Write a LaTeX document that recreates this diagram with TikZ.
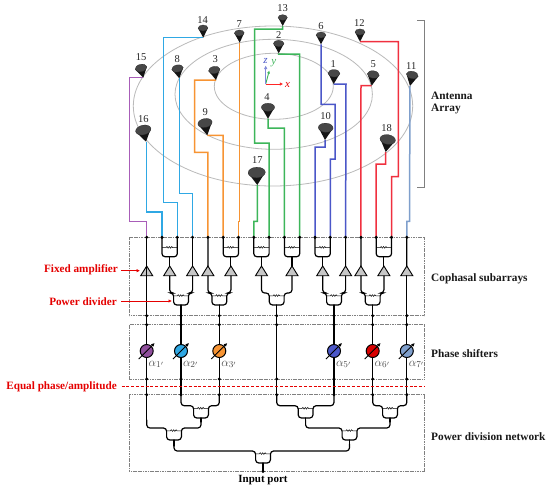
\documentclass[tikz,border=0pt]{standalone}
\usepackage{fontspec}
\setmainfont{Liberation Serif}
\usetikzlibrary{arrows.meta}
\definecolor{cpur}{HTML}{A85DB8}
\definecolor{ccya}{HTML}{2FA8E4}
\definecolor{cora}{HTML}{F79433}
\definecolor{cgre}{HTML}{3DB65A}
\definecolor{cblu}{HTML}{4B57C8}
\definecolor{cred}{HTML}{F0303F}
\definecolor{csla}{HTML}{7F9FCC}
\tikzset{
  wire/.style={black,line width=1.2pt,line cap=round},
  feed/.style={line width=1.5pt,line join=miter},
  ring/.style={draw=black!27,line width=.8pt},
  panel/.style={draw=black!50,line width=.55pt,dash pattern=on 1.2pt off .5pt},
  jdot/.style={circle,fill=black,inner sep=0pt,minimum size=3.4pt},
  numl/.style={font=\fontsize{10.5}{10}\selectfont,inner sep=0pt,text=black!85},
  side/.style={font=\fontsize{11.3}{12.4}\selectfont\bfseries,inner sep=0pt,anchor=west,align=left,text=black!90},
  redl/.style={font=\fontsize{11.2}{12}\selectfont\bfseries,inner sep=0pt,anchor=east,text=red!90!black},
  redar/.style={red!90!black,line width=.8pt,-{Latex[length=3.5pt,width=3.5pt]}},
  alab/.style={inner sep=0pt,text=black!70,font=\fontsize{13}{13}\selectfont},
}
\newcommand{\antn}[8]{%
  \pgfmathsetmacro{\ddx}{#3-#1}\pgfmathsetmacro{\ddy}{#4-#2}%
  \pgfmathsetmacro{\ddh}{sqrt(\ddx*\ddx+\ddy*\ddy)}%
  \pgfmathsetmacro{\upx}{-\ddy/\ddh}\pgfmathsetmacro{\upy}{\ddx/\ddh}%
  \pgfmathsetmacro{\ang}{atan2(-\upy,\upx)}%
  \coordinate (t#6) at (#1,#2);
  \fill[black!92] (#3-#5*\upx,#4-#5*\upy) -- (t#6) -- (#3+#5*\upx,#4+#5*\upy) -- cycle;
  \fill[black!72,draw=black!85,line width=.2pt] (#3,#4) ellipse [x radius=#5,y radius=.62*#5,rotate=\ang];
  \node[numl] (n#6) at (#7,#8) {#6};
}
\newcommand{\wigg}[3]{%
  \draw[black,line width=.5pt] (#1-#2,#3) -- (#1-3.6,#3) -- (#1-2.7,#3-1.1) -- (#1-1.5,#3+.6) -- (#1-.3,#3-1.1) -- (#1+.9,#3+.6) -- (#1+2.1,#3-1.1) -- (#1+3,#3) -- (#1+#2,#3);
}
\newcommand{\pdtop}[2]{%
  \pgfmathsetmacro{\cxx}{(#1+#2)/2}\pgfmathsetmacro{\hww}{(#2-#1)/2}%
  \draw[wire,rounded corners=3pt] (#1,237.3) -- (#1,256.7) -- (#2,256.7) -- (#2,237.3);
  \wigg{\cxx}{\hww}{247.6}
  \draw[wire] (\cxx,256.7) -- (\cxx,267);
}
\newcommand{\pdiv}[7]{%
  \draw[wire,rounded corners=3.2pt] (#1,#4) -- (#1,#5) -- (#3-7.4,#5) -- (#3-7.4,#6) -- (#3+7.4,#6) -- (#3+7.4,#5) -- (#2,#5) -- (#2,#4);
  \wigg{#3}{7.4}{#5+2.8}
  \draw[wire] (#3,#6) -- (#3,#7);
}
\newcommand{\ampl}[1]{%
  \draw[black,line width=.9pt,fill=black!22!white,line join=miter] (#1,266) -- (#1+6,275.7) -- (#1-6,275.7) -- cycle;
}
\newcommand{\pshift}[3]{%
  \draw[black,line width=1pt,fill=#2] (#1,351) circle (6.5);
  \draw[black,line width=.9pt,-{Latex[length=3.5pt,width=3.5pt]}] (#1-8,359) -- (#1+8,343);
  \node[alab,anchor=west] (al#3) at (#1+1.8,364.5) {$\alpha_{#3'}$};
}
\begin{document}
\begin{tikzpicture}[x=1pt,y=-1pt]
\useasboundingbox (0,0) rectangle (550,493);
\fill[white] (0,0) rectangle (550,493);
\foreach \i in {0,...,17}{
  \pgfmathsetmacro{\xx}{146.7+15.3*\i}
  \coordinate (c\i) at (\xx,237.3);
}
\draw[ring] (273,106) ellipse [x radius=139.7,y radius=80];
\draw[ring] (273.7,94.3) ellipse [x radius=98.7,y radius=55];
\draw[ring] (273.8,86.3) ellipse [x radius=59.5,y radius=33];
\draw[panel] (129.3,237.3) rectangle (424.3,315.7);
\draw[panel] (129.3,324.7) rectangle (424.3,379);
\draw[panel] (129.3,394.7) rectangle (424.3,471.3);
\draw[black!50,line width=.8pt] (417.3,20.7) -- (424.3,20.7) -- (424.3,187.3) -- (417.3,187.3);
\draw[cgre,line width=.9pt,-{Latex[length=3pt,width=3pt]}] (265.7,84) -- (269.3,70.5);
\draw[cblu!70,line width=.9pt,-{Latex[length=3.5pt,width=3.5pt]}] (265.7,84) -- (265.7,65.5);
\draw[red!85,line width=.9pt,-{Latex[length=3.5pt,width=3.5pt]}] (265.7,84) -- (283.3,84);
\node[inner sep=0pt,text=cblu,font=\fontsize{11}{10}\selectfont\itshape] (az) at (265.5,60.5) {z};
\node[inner sep=0pt,text=cgre,font=\fontsize{11}{10}\selectfont\itshape] (ay) at (273.8,63.5) {y};
\node[inner sep=0pt,text=red!90!black,font=\fontsize{11}{10}\selectfont\itshape] (ax) at (287.6,84.5) {x};
\draw[feed,cpur] (143.3,77.7) -- (129.3,77.7) -- (129.3,221.3) -- (146.7,221.3) -- (c0);
\draw[feed,ccya] (146.7,141.7) -- (146.7,212) -- (162,212) -- (c1);
\draw[feed,ccya] (203.3,37.7) -- (163.7,37.7) -- (163.7,202.7) -- (177.3,202.7) -- (c2);
\draw[feed,ccya] (179.3,78.3) -- (179.3,193.3) -- (192.6,193.3) -- (c3);
\draw[feed,cora] (216,80) -- (194.7,80) -- (194.7,152.3) -- (207.9,152.3) -- (c4);
\draw[feed,cora] (207.3,135.3) -- (223.2,135.3) -- (c5);
\draw[feed,cora] (239.7,42.7) -- (239.7,221.3) -- (238.5,221.3) -- (c6);
\draw[feed,cgre] (257.3,185) -- (257.3,221.3) -- (253.8,221.3) -- (c7);
\draw[feed,cgre] (282.7,26) -- (282.7,29) -- (254.7,29) -- (254.7,143) -- (269.1,143) -- (c8);
\draw[feed,cgre] (268,118.7) -- (268,128) -- (284.4,128) -- (c9);
\draw[feed,cgre] (278.7,53.3) -- (278.7,54) -- (299.7,54) -- (c10);
\draw[feed,cblu] (325,140) -- (325,147) -- (315,147) -- (c11);
\draw[feed,cblu] (321,44.3) -- (321,104.3) -- (335,104.3) -- (335,159) -- (330.3,159) -- (c12);
\draw[feed,cblu] (333.7,84) -- (346,84) -- (c13);
\draw[feed,cred] (371.7,85.7) -- (361,85.7) -- (c14);
\draw[feed,cred] (385.7,152) -- (385.7,164) -- (376.2,164) -- (c15);
\draw[feed,cred] (360,41.7) -- (398.3,41.7) -- (398.3,176.7) -- (391.5,176.7) -- (c16);
\draw[feed,csla] (410,86) -- (409.5,221.3) -- (406.8,221.3) -- (c17);
\antn{333.7}{84}{334}{73.3}{6}{1}{333.3}{64}
\antn{278.7}{53.3}{278.7}{43.5}{5.3}{2}{278.7}{35}
\antn{216}{80}{214.3}{70}{5.8}{3}{215.3}{59.3}
\antn{268}{118.7}{268}{107.3}{6.6}{4}{267}{96.7}
\antn{371.7}{85.7}{373.3}{74.5}{6}{5}{373.3}{64.3}
\antn{321}{44.3}{321}{35}{4.9}{6}{321}{26}
\antn{239.7}{42.7}{239.3}{33}{4.9}{7}{239.3}{24}
\antn{179.3}{78.3}{177.5}{68.5}{5.8}{8}{177.3}{59.3}
\antn{207.3}{135.3}{205}{123}{7.2}{9}{205.3}{111.7}
\antn{325}{140}{325.7}{127.7}{7.4}{10}{325.7}{116}
\antn{410}{86}{412.3}{75}{6}{11}{411.3}{65.7}
\antn{360}{41.7}{360}{32}{5}{12}{359.3}{23.3}
\antn{282.7}{26}{282.7}{17.5}{4.6}{13}{282.7}{8}
\antn{203.3}{37.7}{203}{28}{4.9}{14}{202.7}{20}
\antn{143.3}{77.7}{141}{68}{6}{15}{141}{57}
\antn{146}{141.7}{143.3}{130}{7.8}{16}{143.3}{118.7}
\antn{257.3}{185}{256.7}{172.5}{8.6}{17}{257.3}{160}
\antn{385.7}{152}{387.7}{139.5}{7.8}{18}{386.7}{127.7}
\pdtop{162}{177.3}
\pdtop{223.2}{238.5}
\pdtop{253.8}{269.1}
\pdtop{284.4}{299.7}
\pdtop{315}{330.3}
\pdtop{376.2}{391.5}
\draw[wire] (c3) -- (192.6,267);
\draw[wire] (c4) -- (207.9,267);
\draw[wire] (c13) -- (345.6,267);
\draw[wire] (c14) -- (360.9,267);
\draw[wire] (c17) -- (406.8,267);
\pdiv{169.7}{192.6}{181}{275.7}{293}{305}{315.7}
\pdiv{207.9}{230.9}{219.3}{275.7}{293}{305}{315.7}
\pdiv{261.5}{292}{276.7}{275.7}{293}{305}{315.7}
\pdiv{322.7}{345.6}{334}{275.7}{293}{305}{315.7}
\pdiv{360.9}{383.9}{372.7}{275.7}{293}{305}{315.7}
\foreach \a in {146.7,169.7,192.6,207.9,230.9,261.5,292,322.7,345.6,360.9,383.9,406.8}{\ampl{\a}}
\draw[wire] (c0) -- (146.7,420);
\draw[wire] (406.8,275.7) -- (406.8,394.7);
\foreach \a in {181,219.3,276.7,334,372.7}{\draw[wire] (\a,315.7) -- (\a,394.7);}
\pdiv{181}{219.3}{201}{394.7}{405.7}{418}{422}
\pdiv{276.7}{334}{305.6}{394.7}{405.7}{418}{422}
\pdiv{372.7}{406.8}{390}{394.7}{405.7}{418}{422}
\pdiv{146.7}{201}{174}{420}{428}{440}{446}
\pdiv{305.6}{390}{349.5}{420}{428}{440}{446}
\pdiv{174}{349.5}{263}{444}{451}{463}{471.3}
\foreach \i in {0,...,17}{\node[jdot] (jt\i) at (c\i) {};}
\foreach \a in {146.7,181,219.3,276.7,334,372.7,406.8}{
  \foreach \y in {315.7,324.7,379,394.7}{\node[jdot] at (\a,\y) {};}
}
\node[jdot] (inp) at (263,471.3) {};
\pshift{146.7}{cpur!85!black}{1}
\pshift{181}{ccya}{2}
\pshift{219.3}{cora}{3}
\pshift{334}{cblu}{5}
\pshift{372.7}{red!85!black}{6}
\pshift{406.8}{csla}{7}
\node[redl] (eq) at (117,386.5) {Equal phase/amplitude};
\coordinate (eqe) at (424.3,386.5);
\draw[red!90!black,line width=.9pt,dash pattern=on 3pt off 1.8pt] (121.5,386.5) -- (eqe);
\node[redl] (fa) at (118,270) {Fixed amplifier};
\node[redl] (pd) at (117,301.5) {Power divider};
\coordinate (faa) at (140,270.7);
\coordinate (pda) at (172,301);
\draw[redar] (121,270.7) -- (faa);
\draw[redar] (121,301) -- (pda);
\node[side] (aa) at (431,103) {Antenna\\Array};
\node[side] (cs) at (431,278.5) {Cophasal subarrays};
\node[side] (ps) at (431,354) {Phase shifters};
\node[side] (pn) at (431,437) {Power division network};
\node[font=\fontsize{11}{12}\selectfont\bfseries,inner sep=0pt] (ip) at (263,480) {Input port};
\end{tikzpicture}
\end{document}
